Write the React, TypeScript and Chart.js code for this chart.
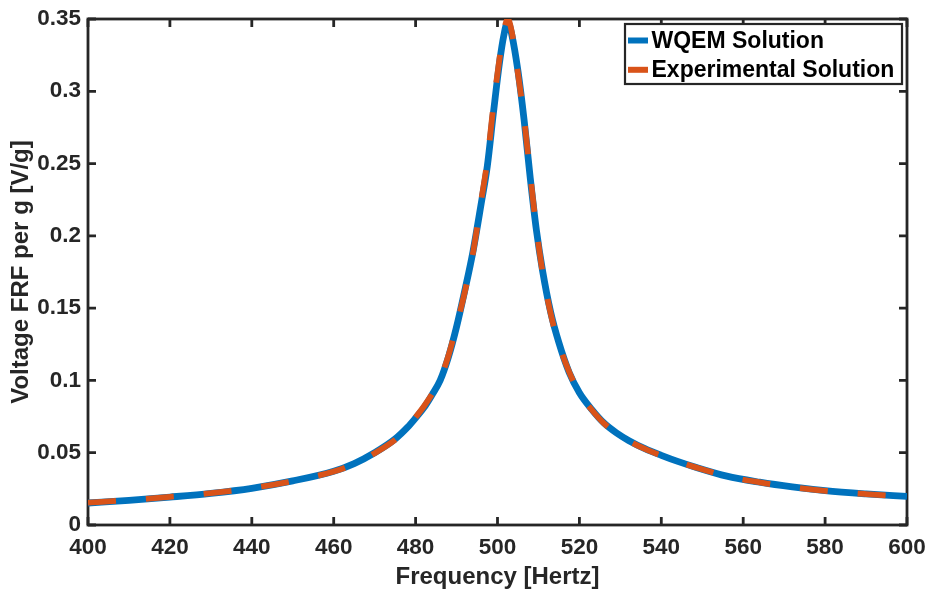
import React, { useEffect, useRef } from "react";
import { Chart, registerables } from "chart.js";

Chart.register(...registerables);

// ---- data ----
const frequencies = [
  400, 410, 420, 430, 440, 450, 460, 465, 470, 475, 478, 480, 482, 484, 486, 488, 490, 492, 494, 496,
  497.5, 499, 500.5, 501.5, 502.5, 503.5, 505, 506.5, 508, 509.5, 511, 513, 515, 517.5, 520, 523, 526,
  529, 532, 536, 540, 544, 548, 556, 564, 572, 580, 590, 600,
];
const wqemValues = [
  0.0152, 0.017, 0.0193, 0.0219, 0.0254, 0.0305, 0.0372, 0.0425, 0.05, 0.0595, 0.0675, 0.074, 0.081, 0.09,
  0.1, 0.116, 0.137, 0.162, 0.189, 0.222, 0.248, 0.285, 0.32, 0.338, 0.348, 0.339, 0.314, 0.28, 0.24,
  0.204, 0.176, 0.147, 0.126, 0.1055, 0.0915, 0.08, 0.0705, 0.0638, 0.0585, 0.0528, 0.0482, 0.044, 0.0403,
  0.0338, 0.0296, 0.0263, 0.0237, 0.0215, 0.0198,
];
const experimentalValues = [
  0.0155, 0.0172, 0.0195, 0.0221, 0.0255, 0.0304, 0.037, 0.0422, 0.0497, 0.059, 0.0672, 0.0745, 0.082,
  0.0905, 0.101, 0.117, 0.138, 0.161, 0.188, 0.224, 0.252, 0.29, 0.323, 0.341, 0.35, 0.341, 0.312, 0.281,
  0.242, 0.205, 0.175, 0.146, 0.125, 0.106, 0.0912, 0.0797, 0.0703, 0.0636, 0.0583, 0.0526, 0.048,
  0.0439, 0.0402, 0.0337, 0.0295, 0.0262, 0.0236, 0.0214, 0.0197,
];
const seriesLabels = ["WQEM Solution", "Experimental Solution"];
const xTitle = "Frequency [Hertz]";
const yTitle = "Voltage FRF per g [V/g]";
const xMin = 400;
const xMax = 600;
const xStep = 20;
const yMin = 0;
const yMax = 0.35;
const yStep = 0.05;

// ---- styles ----
const W = 932;
const H = 597;
const BLUE = "#0072BD";
const ORANGE = "#D95319";
const AXIS = "#262626";
const FONT_FAMILY = '"Liberation Sans", Arial, Helvetica, sans-serif';

const framePlugin = {
  id: "matlabFrame",
  beforeDatasetsDraw(chart: any) {
    const { ctx, chartArea: a, scales } = chart;
    ctx.save();
    ctx.strokeStyle = AXIS;
    ctx.lineWidth = 2.8;
    ctx.setLineDash([]);
    ctx.beginPath();
    const tl = 8;
    scales.x.ticks.forEach((t: any) => {
      const px = scales.x.getPixelForValue(t.value);
      ctx.moveTo(px, a.bottom);
      ctx.lineTo(px, a.bottom - tl);
      ctx.moveTo(px, a.top);
      ctx.lineTo(px, a.top + tl);
    });
    scales.y.ticks.forEach((t: any) => {
      const py = scales.y.getPixelForValue(t.value);
      ctx.moveTo(a.left, py);
      ctx.lineTo(a.left + tl, py);
      ctx.moveTo(a.right, py);
      ctx.lineTo(a.right - tl, py);
    });
    ctx.stroke();
    ctx.strokeRect(a.left, a.top, a.right - a.left, a.bottom - a.top);
    ctx.restore();
  },
};

const legendPlugin = {
  id: "insideLegend",
  afterDraw(chart: any) {
    const { ctx, chartArea: a } = chart;
    const right = a.right - 5;
    const top = a.top + 5;
    const w = 277;
    const h = 60;
    const left = right - w;
    ctx.save();
    ctx.fillStyle = "#ffffff";
    ctx.fillRect(left, top, w, h);
    ctx.strokeStyle = AXIS;
    ctx.lineWidth = 2.2;
    ctx.setLineDash([]);
    ctx.strokeRect(left, top, w, h);
    chart.data.datasets.forEach((ds: any, i: number) => {
      const y = top + 16.5 + i * 29.3;
      ctx.strokeStyle = ds.borderColor;
      ctx.lineWidth = 6;
      ctx.lineCap = "butt";
      ctx.beginPath();
      ctx.moveTo(left + 3, y);
      ctx.lineTo(left + 23, y);
      ctx.stroke();
      ctx.fillStyle = "#000000";
      ctx.font = `bold 23px ${FONT_FAMILY}`;
      ctx.textBaseline = "middle";
      ctx.textAlign = "left";
      ctx.fillText(ds.label, left + 26.5, y + 1);
    });
    ctx.restore();
  },
};

export default function App() {
  const canvasRef = useRef<HTMLCanvasElement | null>(null);

  useEffect(() => {
    if (!canvasRef.current) return;
    const toPoints = (vals: number[]) => frequencies.map((f, i) => ({ x: f, y: vals[i] }));
    const tickFont = { family: FONT_FAMILY, size: 22.5, weight: "bold" as const };
    const titleFont = { family: FONT_FAMILY, size: 24, weight: "bold" as const };
    const chart = new Chart(canvasRef.current, {
      type: "line",
      data: {
        datasets: [
          {
            label: seriesLabels[0],
            data: toPoints(wqemValues),
            borderColor: BLUE,
            backgroundColor: BLUE,
            borderWidth: 6.8,
            pointRadius: 0,
            cubicInterpolationMode: "monotone",
            borderJoinStyle: "round",
            borderCapStyle: "butt",
            order: 2,
          },
          {
            label: seriesLabels[1],
            data: toPoints(experimentalValues),
            borderColor: ORANGE,
            backgroundColor: ORANGE,
            borderWidth: 5.8,
            borderDash: [28, 30],
            pointRadius: 0,
            cubicInterpolationMode: "monotone",
            borderCapStyle: "butt",
            order: 1,
          },
        ],
      },
      options: {
        animation: false,
        responsive: true,
        maintainAspectRatio: false,
        devicePixelRatio: 1,
        layout: { padding: { left: 0, top: 19, right: W - 907, bottom: 0 } },
        plugins: {
          legend: { display: false },
          tooltip: { enabled: false },
        },
        scales: {
          x: {
            type: "linear",
            min: xMin,
            max: xMax,
            grid: { display: false, drawTicks: false },
            border: { display: false },
            ticks: {
              stepSize: xStep,
              font: tickFont,
              color: AXIS,
              padding: 9,
              maxRotation: 0,
            },
            title: {
              display: true,
              text: xTitle,
              font: titleFont,
              color: AXIS,
              padding: { top: 0, bottom: 5.5 },
            },
            afterFit: (scale: any) => {
              scale.height = H - 525;
              scale.paddingLeft = 0;
              scale.paddingRight = 0;
            },
          },
          y: {
            type: "linear",
            min: yMin,
            max: yMax,
            grid: { display: false, drawTicks: false },
            border: { display: false },
            ticks: {
              stepSize: yStep,
              font: tickFont,
              color: AXIS,
              padding: 7,
              callback: (v: any) => String(Number(Number(v).toFixed(2))),
            },
            title: {
              display: true,
              text: yTitle,
              font: titleFont,
              color: AXIS,
              padding: { top: 7, bottom: 0 },
            },
            afterFit: (scale: any) => {
              scale.width = 88;
              scale.paddingTop = 0;
              scale.paddingBottom = 0;
            },
          },
        },
      },
      plugins: [framePlugin, legendPlugin],
    });
    return () => chart.destroy();
  }, []);

  return (
    <div
      style={{
        position: "absolute",
        left: 0,
        top: 0,
        width: W,
        height: H,
        background: "#ffffff",
      }}
    >
      <canvas ref={canvasRef} />
    </div>
  );
}
